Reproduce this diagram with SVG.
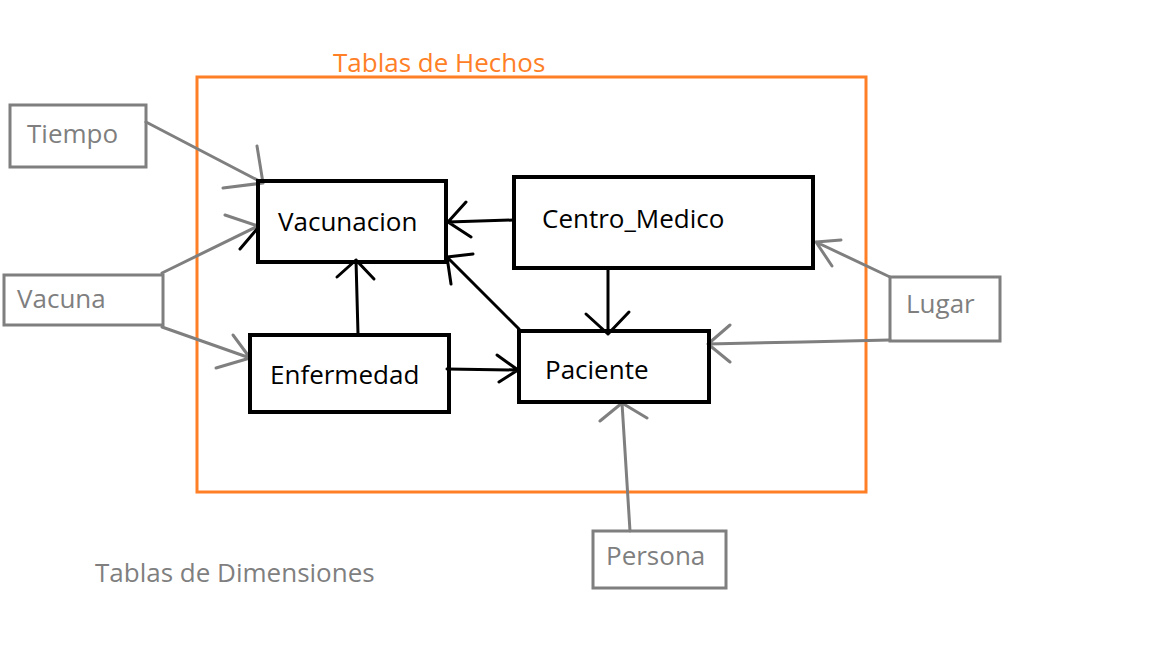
<svg xmlns="http://www.w3.org/2000/svg" width="1152" height="648" viewBox="0 0 1152 648">
<style>
.fact{fill:none;stroke:#000;stroke-width:4}
.dim{fill:none;stroke:#7f7f7f;stroke-width:3}
.t{font-family:"Open Sans","Noto Sans","Liberation Sans",sans-serif;font-size:26px}
.tb{fill:#000}
.tg{fill:#7f7f7f}
.bl{fill:none;stroke:#000;stroke-width:3;stroke-linecap:round;stroke-linejoin:round}
.gl{fill:none;stroke:#7f7f7f;stroke-width:3;stroke-linecap:round;stroke-linejoin:round}
</style>
<rect width="1152" height="648" fill="#fff"/>
<g id="hechos">
<rect x="197" y="77" width="669" height="415" fill="none" stroke="#ff7f27" stroke-width="3"/>
<text x="333" y="72" class="t" fill="#ff7f27">Tablas de Hechos</text>
</g>
<text id="dimensiones-label" x="95" y="582" class="t tg">Tablas de Dimensiones</text>
<g id="connectors">
<path class="bl" d="M514 220 L448 222 M466 202 L448 222 L471 237"/>
<path class="bl" d="M519 329 L447 257 M473 254 L447 257 L451 284"/>
<path class="bl" d="M608 268 L608 334 M586 314 L608 334 L629 312"/>
<path class="bl" d="M358 334 L356 260 M337 277 L356 260 L374 279"/>
<path class="bl" d="M447 369 L518 370 M497 355 L518 370 L499 382"/>
<path class="gl" d="M146 122 L263 183 M257 146 L263 183 L223 188"/>
<path class="gl" d="M162 273 L258 226 L225 215"/>
<path class="bl" d="M240 249 L257 229"/>
<path class="gl" d="M162 327 L250 358 M233 335 L250 358 L216 368"/>
<path class="gl" d="M890 277 L816 242 M841 240 L816 242 L832 266"/>
<path class="gl" d="M890 340 L803 342 L708 344 M730 325 L708 344 L730 362"/>
<path class="gl" d="M630 531 L622 403 M600 421 L622 403 L647 418"/>
</g>
<g id="vacunacion">
<rect class="fact" x="258" y="181" width="188" height="81"/>
<text x="278" y="231" class="t tb">Vacunacion</text>
</g>
<g id="centro_medico">
<rect class="fact" x="514" y="177" width="299" height="91"/>
<text x="542" y="228" class="t tb">Centro_Medico</text>
</g>
<g id="enfermedad">
<rect class="fact" x="250" y="335" width="199" height="77"/>
<text x="270" y="384" class="t tb">Enfermedad</text>
</g>
<g id="paciente">
<rect class="fact" x="519" y="331" width="190" height="71"/>
<text x="545" y="379" class="t tb">Paciente</text>
</g>
<g id="tiempo">
<rect class="dim" x="10" y="105" width="136" height="62"/>
<text x="27" y="143" class="t tg">Tiempo</text>
</g>
<g id="vacuna">
<rect class="dim" x="4" y="275" width="159" height="50"/>
<text x="17" y="308" class="t tg">Vacuna</text>
</g>
<g id="lugar">
<rect class="dim" x="890" y="277" width="110" height="64"/>
<text x="906" y="313" class="t tg">Lugar</text>
</g>
<g id="persona">
<rect class="dim" x="593" y="531" width="133" height="57"/>
<text x="606" y="565" class="t tg">Persona</text>
</g>
</svg>
